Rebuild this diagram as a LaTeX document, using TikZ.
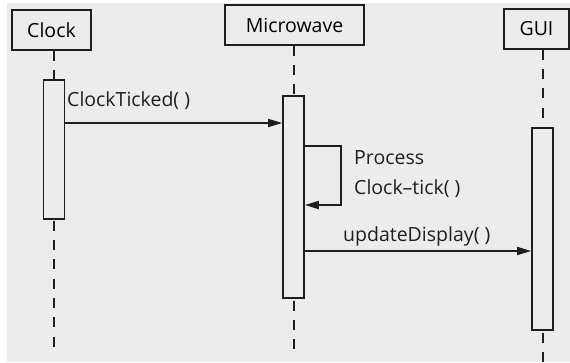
\documentclass[tikz,border=0pt]{standalone}
\usepackage{fontspec}
\setmainfont{Open Sans}
\usetikzlibrary{arrows.meta,positioning,calc}
\definecolor{panelgrey}{RGB}{236,236,236}
\definecolor{inkgrey}{RGB}{30,30,30}

\begin{document}
\begin{tikzpicture}[x=1pt, y=-1pt,
    obj/.style={rectangle, draw=inkgrey, line width=1.7pt, fill=panelgrey,
        minimum height=40pt, inner sep=0pt, font=\fontsize{19.5}{23}\selectfont},
    act/.style={rectangle, draw=inkgrey, line width=1.7pt, fill=panelgrey,
        minimum width=21pt, inner sep=0pt},
    life/.style={inkgrey, line width=2pt, dash pattern=on 10pt off 9.3pt},
    arr/.style={-{Triangle[length=14pt, width=8pt]}, inkgrey, line width=1.7pt},
    lbl/.style={font=\fontsize{19.5}{23}\selectfont, inner sep=0pt, text=inkgrey}
]
    \useasboundingbox (0,0) rectangle (570,362);
    \fill[panelgrey] (7,3) rectangle (570,362);

    % Objects
    \node[obj, minimum width=79pt] (clock) at (51.5,30) {Clock};
    \node[obj, minimum width=139pt] (micro) at (294.5,25) {Microwave};
    \node[obj, minimum width=65pt] (gui) at (536.5,29) {GUI};

    % Activation bars
    \node[act, minimum height=139pt] (clockact) at (54,149.5) {};
    \node[act, minimum height=202pt] (microact) at (293.5,197) {};
    \node[act, minimum height=202pt] (guiact) at (542.5,229) {};

    % Lifelines
    \coordinate (clockend) at (54,353);
    \coordinate (microend) at (293.5,350);
    \coordinate (guiend) at (542.5,362);
    \draw[life] (clockact.north |- clock.south) -- (clockact.north);
    \draw[life] ([yshift=-1pt]clockact.south) -- (clockend);
    \draw[life] (microact.north |- micro.south) -- (microact.north);
    \draw[life] ([yshift=-2pt]microact.south) -- (microend);
    \draw[life] (guiact.north |- gui.south) -- (guiact.north);
    \draw[life] ([yshift=-2pt]guiact.south) -- (guiend);

    % Messages
    \draw[arr] (clockact.east |- 0,123) -- (microact.west |- 0,123);
    \node[lbl, anchor=west] (tick) at (67,101) {ClockTicked( )};

    \draw[arr] (microact.east |- 0,146) -- (341,146) -- (341,205)
        -- (microact.east |- 0,205);
    \node[lbl, anchor=west, align=left, font=\fontsize{19.5}{30}\selectfont]
        (process) at (354,174) {Process\\Clock--tick( )};

    \draw[arr] (microact.east |- 0,251) -- (guiact.west |- 0,251);
    \node[lbl, anchor=west] (update) at (343,236) {updateDisplay( )};
\end{tikzpicture}
\end{document}
